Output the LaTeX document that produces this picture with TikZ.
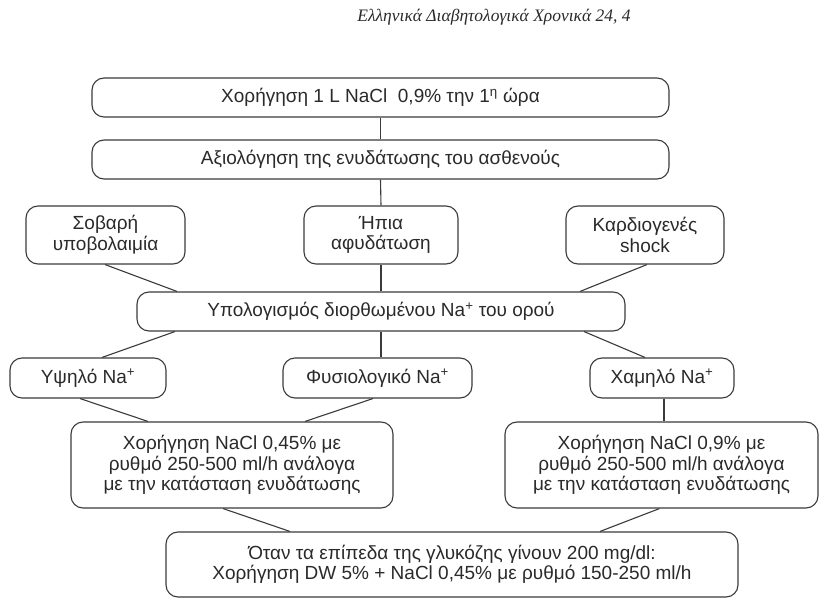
\documentclass[tikz,border=0pt]{standalone}
\usepackage{fontspec}
\setmainfont{Liberation Sans}
\newfontfamily\hdrfont{Liberation Serif}
\definecolor{inkc}{HTML}{2A2A2A}
\definecolor{linec}{HTML}{3A3A3A}
\begin{document}
\begin{tikzpicture}[x=1pt,y=-1pt,
  fbox/.style={draw=linec, line width=1.1pt, rounded corners=12pt, inner sep=0pt,
    align=center, text=inkc, font=\fontsize{19}{20.5}\selectfont},
  conn/.style={draw=linec, line width=1.1pt}]
\useasboundingbox (0,0) rectangle (824,601);
\node[text=inkc, font=\hdrfont\itshape\fontsize{17.5}{19}\selectfont] (hdr) at (494,17) {Ελληνικά Διαβητολογικά Χρονικά 24, 4};
\node[fbox, minimum width=577pt, minimum height=39pt] (n1) at (380.5,97.5) {Χορήγηση 1 L NaCl\ \ 0,9\% την 1\textsuperscript{η} ώρα};
\node[fbox, minimum width=577pt, minimum height=39pt] (n2) at (380.5,159.5) {Αξιολόγηση της ενυδάτωσης του ασθενούς};
\node[fbox, minimum width=159pt, minimum height=58pt] (s1) at (105.5,235) {Σοβαρή\\υποβολαιμία};
\node[fbox, minimum width=154pt, minimum height=58pt] (s2) at (381,235) {Ήπια\\αφυδάτωση};
\node[fbox, minimum width=158pt, minimum height=58pt] (s3) at (645,235) {Καρδιογενές\\shock};
\node[fbox, minimum width=488pt, minimum height=39pt] (calc) at (381,311.5) {Υπολογισμός διορθωμένου Na\textsuperscript{+} του ορού};
\node[fbox, minimum width=156pt, minimum height=40pt] (h1) at (88,378) {Υψηλό Na\textsuperscript{+}};
\node[fbox, minimum width=189pt, minimum height=40pt] (h2) at (377.5,378) {Φυσιολογικό Na\textsuperscript{+}};
\node[fbox, minimum width=144pt, minimum height=40pt] (h3) at (662,378) {Χαμηλό Na\textsuperscript{+}};
\node[fbox, minimum width=322pt, minimum height=86pt] (t1) at (232,465) {Χορήγηση NaCl 0,45\% με\\ρυθμό 250-500 ml/h ανάλογα\\με την κατάσταση ενυδάτωσης};
\node[fbox, minimum width=313pt, minimum height=86pt] (t2) at (661.5,465) {Χορήγηση NaCl 0,9\% με\\ρυθμό 250-500 ml/h ανάλογα\\με την κατάσταση ενυδάτωσης};
\node[fbox, minimum width=572pt, minimum height=65pt] (b) at (452,564.5) {Όταν τα επίπεδα της γλυκόζης γίνουν 200 mg/dl:\\Χορήγηση DW 5\% + NaCl 0,45\% με ρυθμό 150-250 ml/h};
% connectors
\draw[conn] (n1.south) -- (n2.north);
\draw[conn] (n2.south) -- (s2.north);
\draw[conn] ([xshift=-0.5pt]s1.south) -- ([xshift=-204pt]calc.north);
\draw[conn] (s2.south) -- (calc.north);
\draw[conn] ([xshift=2pt]s3.south) -- ([xshift=199pt]calc.north);
\draw[conn] ([xshift=-206pt]calc.south) -- ([xshift=14pt]h1.north);
\draw[conn] (calc.south) -- (calc.south |- h2.north);
\draw[conn] ([xshift=203pt]calc.south) -- ([xshift=-17pt]h3.north);
\draw[conn] ([xshift=-8pt]h1.south) -- ([xshift=-84pt]t1.north);
\draw[conn] ([xshift=-4.5pt]h2.south) -- ([xshift=73pt]t1.north);
\draw[conn] ([xshift=2pt]h3.south) -- ([xshift=2pt]h3.south |- t2.north);
\draw[conn] ([xshift=-9pt]t1.south) -- ([xshift=-162pt]b.north);
\draw[conn] ([xshift=-2pt]t2.south) -- ([xshift=148pt]b.north);
\end{tikzpicture}
\end{document}
